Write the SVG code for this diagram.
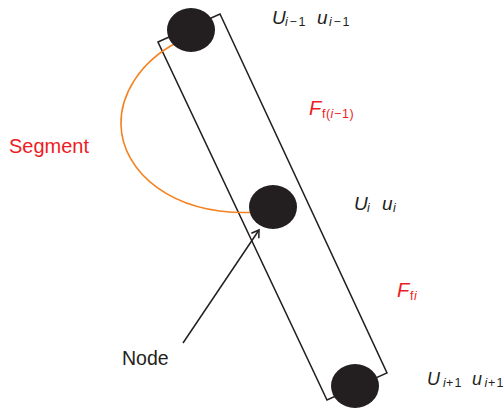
<svg xmlns="http://www.w3.org/2000/svg" width="504" height="409" viewBox="0 0 504 409">
<style>
.node{fill:#231f20}
.seg{fill:none;stroke:#231f20;stroke-width:1.5}
.t{font-family:"Liberation Sans",Arial,sans-serif}
.v{font-family:"Liberation Sans",Arial,sans-serif;font-style:italic;fill:#231f20}
.red{fill:#ed1c24}
.up{font-style:normal}
.s{font-size:12.5px}
</style>
<defs>
<marker id="arr" markerUnits="userSpaceOnUse" markerWidth="14" markerHeight="14" refX="10" refY="6" orient="auto">
<path d="M3,1.5 L10,6 L3,10.5" fill="none" stroke="#231f20" stroke-width="1.5"/>
</marker>
</defs>
<rect width="504" height="409" fill="#fff"/>
<g id="element">
<polygon class="seg" points="158,42 220,14 387,373 327,400"/>
</g>
<g id="connectors">
<path d="M176,43 C140,62 120,95 121,125 C122,170 170,218 261,212" fill="none" stroke="#f58220" stroke-width="1.6"/>
<line x1="183" y1="343" x2="259" y2="230" stroke="#231f20" stroke-width="1.5" marker-end="url(#arr)"/>
</g>
<g id="node-top"><ellipse class="node" cx="191" cy="30" rx="24" ry="22"/></g>
<g id="node-mid"><ellipse class="node" cx="273" cy="207" rx="24" ry="22"/></g>
<g id="node-bot"><ellipse class="node" cx="355" cy="386" rx="24" ry="22"/></g>
<g id="labels">
<text class="t red" x="9" y="153" font-size="20">Segment</text>
<text class="t" x="122" y="365" font-size="19.5" fill="#231f20">Node</text>
<text class="v" y="24" font-size="19"><tspan x="272">U</tspan><tspan class="s" x="285" dy="2">i</tspan><tspan class="s up" x="289.5">−</tspan><tspan class="s up" x="298.5">1</tspan><tspan x="317" dy="-2">u</tspan><tspan class="s" x="329" dy="2">i</tspan><tspan class="s up" x="333.5">−</tspan><tspan class="s up" x="342.5">1</tspan></text>
<text class="v red" y="115" font-size="20"><tspan x="309">F</tspan><tspan class="s up" x="322" dy="3">f</tspan><tspan class="s up" x="326">(</tspan><tspan class="s" x="330.5">i</tspan><tspan class="s up" x="334">−</tspan><tspan class="s up" x="342">1</tspan><tspan class="s up" x="349.5">)</tspan></text>
<text class="v" y="210" font-size="19"><tspan x="354">U</tspan><tspan class="s" x="367" dy="2">i</tspan><tspan x="382" dy="-2">u</tspan><tspan class="s" x="393" dy="2">i</tspan></text>
<text class="v red" y="297" font-size="20"><tspan x="397">F</tspan><tspan class="s up" x="410" dy="3">f</tspan><tspan class="s" x="414">i</tspan></text>
<text class="v" y="385" font-size="18"><tspan x="427">U</tspan><tspan class="s" x="443" dy="2">i</tspan><tspan class="s up" x="446">+</tspan><tspan class="s up" x="454.5">1</tspan><tspan x="472" dy="-2">u</tspan><tspan class="s" x="484.5" dy="2">i</tspan><tspan class="s up" x="488">+</tspan><tspan class="s up" x="496.5">1</tspan></text>
</g>
</svg>
